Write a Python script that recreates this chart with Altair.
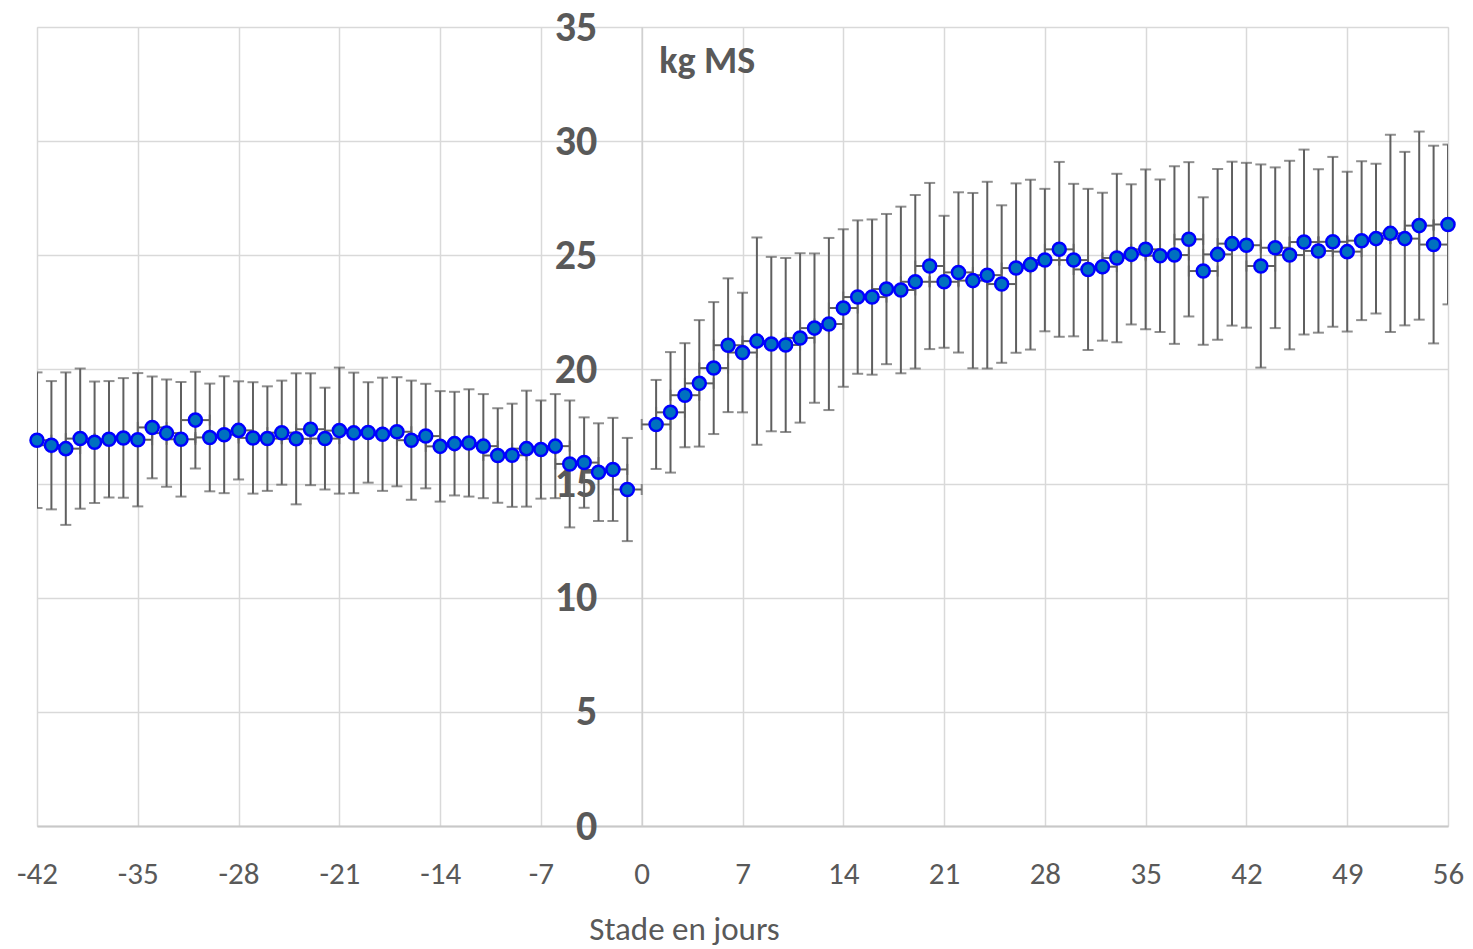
import altair as alt
import pandas as pd

DAYS = [-42, -41, -40, -39, -38, -37, -36, -35, -34, -33, -32, -31, -30, -29,
        -28, -27, -26, -25, -24, -23, -22, -21, -20, -19, -18, -17, -16, -15,
        -14, -13, -12, -11, -10, -9, -8, -7, -6, -5, -4, -3, -2, -1,
        1, 2, 3, 4, 5, 6, 7, 8, 9, 10, 11, 12, 13, 14,
        15, 16, 17, 18, 19, 20, 21, 22, 23, 24, 25, 26, 27, 28,
        29, 30, 31, 32, 33, 34, 35, 36, 37, 38, 39, 40, 41, 42,
        43, 44, 45, 46, 47, 48, 49, 50, 51, 52, 53, 54, 55, 56]

MEANS = [16.90, 16.68, 16.53, 16.97, 16.81, 16.94, 17.00, 16.92, 17.46, 17.21,
         16.94, 17.78, 17.02, 17.14, 17.33, 17.00, 16.97, 17.23, 16.96, 17.38,
         16.97, 17.32, 17.22, 17.24, 17.16, 17.27, 16.90, 17.08, 16.63, 16.75,
         16.78, 16.64, 16.23, 16.24, 16.53, 16.49, 16.64, 15.86, 15.92, 15.50,
         15.62, 14.74,
         17.59, 18.12, 18.87, 19.39, 20.06, 21.06, 20.74, 21.24, 21.11, 21.07,
         21.38, 21.81, 21.99, 22.69, 23.17, 23.17, 23.52, 23.48, 23.84, 24.53,
         23.84, 24.25, 23.89, 24.13, 23.74, 24.44, 24.59, 24.79, 25.26, 24.79,
         24.38, 24.50, 24.88, 25.04, 25.26, 24.98, 25.01, 25.70, 24.31, 25.04,
         25.51, 25.44, 24.53, 25.33, 25.01, 25.58, 25.19, 25.59, 25.16, 25.64,
         25.73, 25.96, 25.73, 26.30, 25.47, 26.35]

ERRORS = [2.97, 2.81, 3.34, 3.07, 2.66, 2.55, 2.62, 2.92, 2.23, 2.35,
          2.51, 2.12, 2.36, 2.56, 2.15, 2.44, 2.29, 2.28, 2.87, 2.45,
          2.23, 2.76, 2.64, 2.20, 2.48, 2.39, 2.61, 2.29, 2.42, 2.27,
          2.35, 2.28, 2.07, 2.26, 2.54, 2.15, 2.28, 2.78, 1.98, 2.14,
          2.26, 2.26,
          1.95, 2.64, 2.28, 2.77, 2.89, 2.93, 2.62, 4.54, 3.82, 3.81,
          3.71, 3.27, 3.77, 3.45, 3.36, 3.40, 3.29, 3.65, 3.80, 3.64,
          2.89, 3.51, 3.84, 4.09, 3.45, 3.71, 3.72, 3.12, 3.83, 3.34,
          3.53, 3.24, 3.69, 3.07, 3.50, 3.34, 3.89, 3.38, 3.23, 3.74,
          3.59, 3.61, 4.45, 3.52, 4.13, 4.05, 3.58, 3.72, 3.50, 3.48,
          3.28, 4.32, 3.80, 4.12, 4.33, 3.50]

X_ERROR = 1  # horizontal error bar, days

X_TICKS = [-42, -35, -28, -21, -14, -7, 0, 7, 14, 21, 28, 35, 42, 49, 56]
Y_TICKS = [0, 5, 10, 15, 20, 25, 30, 35]

df = pd.DataFrame({"day": DAYS, "mean": MEANS, "err": ERRORS})
df["lo"] = df["mean"] - df["err"]
df["hi"] = df["mean"] + df["err"]
df["xlo"] = df["day"] - X_ERROR
df["xhi"] = df["day"] + X_ERROR

W, H = 1411, 799
FONT = "Carlito, Lato, sans-serif"
GREY = "#595959"
BAR = "#5f5f5f"

xscale = alt.Scale(domain=[-42, 56], nice=False, zero=False)
yscale = alt.Scale(domain=[0, 35], nice=False, zero=True)

x_axis = alt.Axis(values=X_TICKS, title="Stade en jours", grid=True,
                  gridColor="#d9d9d9", gridWidth=1.5, domainColor="#c8c8c8",
                  domainWidth=2, ticks=False, labelFont=FONT, labelFontSize=31,
                  labelColor=GREY, labelPadding=33, labelFlush=False,
                  labelOverlap=False, labelExpr="datum.value + ''",
                  titleFont=FONT, titleFontSize=33, titleFontWeight="normal",
                  titleColor=GREY, titleX=647, titleY=113,
                  titleBaseline="alphabetic", titleAnchor="middle")
y_axis = alt.Axis(values=Y_TICKS, title="kg MS", grid=True, gridColor="#d9d9d9",
                  gridWidth=1.5, domain=True, domainColor="#d0d0d0", domainWidth=1.5,
                  ticks=False, offset=-W * 42 / 98, labelFont=FONT,
                  labelFontSize=42, labelFontWeight="bold", labelColor=GREY,
                  labelPadding=45, labelFlush=False, labelOverlap=False,
                  titleFont=FONT, titleFontSize=38,
                  titleFontWeight="bold", titleColor=GREY, titleAngle=0,
                  titleAlign="left", titleBaseline="alphabetic", titleX=17,
                  titleY=45)

base = alt.Chart(df)

vbars = base.mark_rule(color=BAR, strokeWidth=2, clip=True).encode(
    x=alt.X("day:Q", scale=xscale, axis=x_axis),
    y=alt.Y("lo:Q", scale=yscale, axis=y_axis),
    y2="hi:Q",
)
cap_lo = base.mark_tick(color=BAR, orient="horizontal", size=11, thickness=2,
                        clip=True).encode(x="day:Q", y="lo:Q")
cap_hi = base.mark_tick(color=BAR, orient="horizontal", size=11, thickness=2,
                        clip=True).encode(x="day:Q", y="hi:Q")
hbars = base.mark_rule(color=BAR, strokeWidth=2, clip=True).encode(
    x="xlo:Q", x2="xhi:Q", y="mean:Q")
hcap_lo = base.mark_tick(color=BAR, orient="vertical", size=11, thickness=2,
                         clip=True).encode(x="xlo:Q", y="mean:Q")
hcap_hi = base.mark_tick(color=BAR, orient="vertical", size=11, thickness=2,
                         clip=True).encode(x="xhi:Q", y="mean:Q")
points = base.mark_point(shape="circle", filled=True, fill="#0070C0",
                         stroke="#0000FF", strokeWidth=2.5, size=170,
                         opacity=1, fillOpacity=1, strokeOpacity=1).encode(
    x="day:Q", y="mean:Q")

chart = alt.layer(vbars, cap_lo, cap_hi, hbars, hcap_lo, hcap_hi, points).properties(
    width=W, height=H,
    autosize=alt.AutoSizeParams(type="none"),
    padding={"left": 29, "top": 19, "right": 17, "bottom": 122},
).configure_view(strokeWidth=0).configure(background="white")

chart.save("out.html", embed_options={"renderer": "svg", "actions": False})
